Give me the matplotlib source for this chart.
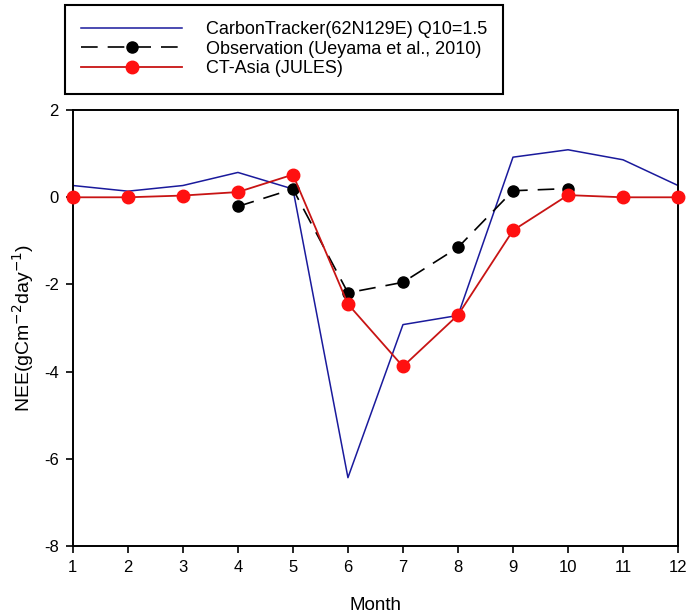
import matplotlib.pyplot as plt
import numpy as np

plt.rcParams['font.family'] = ['Liberation Sans', 'DejaVu Sans']
plt.rcParams['axes.unicode_minus'] = False

# 월별 NEE 값
months = np.arange(1, 13)
ct_values = [0.27, 0.14, 0.27, 0.57, 0.19, -6.43, -2.92, -2.71, 0.92, 1.09, 0.86, 0.27]
obs_months = [4, 5, 6, 7, 8, 9, 10]
obs_values = [-0.21, 0.19, -2.19, -1.95, -1.15, 0.15, 0.2]
jules_values = [0.0, 0.0, 0.04, 0.12, 0.52, -2.45, -3.88, -2.70, -0.76, 0.05, 0.0, 0.0]

y_ticks = [-8, -6, -4, -2, 0, 2]

fig = plt.figure(figsize=(6.94, 6.15), dpi=100)
ax = fig.add_axes([0.105, 0.112, 0.872, 0.709])

ax.plot(months, ct_values, color='#1a1a9c', lw=1.1,
        label='CarbonTracker(62N129E) Q10=1.5', zorder=2)
ax.plot(obs_months, obs_values, color='black', lw=1.2, dashes=(10, 6),
        marker='o', markersize=8, markerfacecolor='black', markeredgecolor='black',
        label='Observation (Ueyama et al., 2010)', zorder=3, clip_on=False)
ax.plot(months, jules_values, color='#c81414', lw=1.3,
        marker='o', markersize=9, markerfacecolor='#ff1010', markeredgecolor='#ff1010',
        label='CT-Asia (JULES)', zorder=4, clip_on=False)

ax.set_xlim(1, 12)
ax.set_ylim(-8, 2)
ax.set_xticks(months)
ax.set_yticks(y_ticks)
ax.tick_params(direction='out', length=5, width=1.2, labelsize=12, pad=5)
for s in ax.spines.values():
    s.set_linewidth(1.4)

ax.set_xlabel('Month', fontsize=13.5, labelpad=16)
ax.set_ylabel('NEE(gCm$^{-2}$day$^{-1}$)', fontsize=14, labelpad=6)

leg = fig.legend(loc='upper left', bbox_to_anchor=(65 / 694, 1 - 5 / 615),
                 fontsize=13, handlelength=5.6, frameon=True, fancybox=False,
                 borderpad=0.9, labelspacing=0.14, handletextpad=1.3,
                 borderaxespad=0)
leg.get_frame().set_edgecolor('black')
leg.get_frame().set_linewidth(1.5)
leg.get_frame().set_alpha(1)

fig.savefig('out.png', dpi=100)
